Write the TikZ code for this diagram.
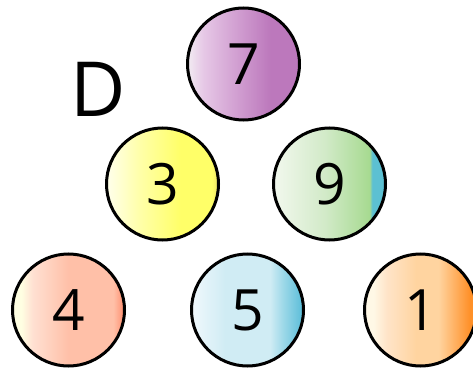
\documentclass[tikz,border=0pt]{standalone}
\usepackage{fontspec}
\setmainfont{Open Sans}

\definecolor{pA}{HTML}{F2ECF2}
\definecolor{pB}{HTML}{E6C8E6}
\definecolor{pC}{HTML}{D4A4D4}
\definecolor{pD}{HTML}{BC78BC}
\definecolor{yA}{HTML}{FFFFEC}
\definecolor{yB}{HTML}{FFFFA8}
\definecolor{yC}{HTML}{FFFF68}
\definecolor{yD}{HTML}{ECE268}
\definecolor{gA}{HTML}{F2F8EE}
\definecolor{gB}{HTML}{D2EAC8}
\definecolor{gC}{HTML}{A6DA90}
\definecolor{gD}{HTML}{5CC0D2}
\definecolor{rA}{HTML}{FFFFE2}
\definecolor{rB}{HTML}{FFE0D2}
\definecolor{rC}{HTML}{FFC0A8}
\definecolor{rD}{HTML}{FF8C6C}
\definecolor{bA}{HTML}{F0F8FC}
\definecolor{bB}{HTML}{D0ECF4}
\definecolor{bC}{HTML}{9CD8E8}
\definecolor{bD}{HTML}{58BCD8}
\definecolor{oA}{HTML}{FFF8E6}
\definecolor{oB}{HTML}{FFE4C8}
\definecolor{oC}{HTML}{FFD4A0}
\definecolor{oD}{HTML}{FF9028}

\pgfdeclarehorizontalshading{purpleball}{100bp}{color(0bp)=(pA); color(25bp)=(pA); color(32bp)=(pB); color(45bp)=(pC); color(62bp)=(pD); color(75bp)=(pD); color(100bp)=(pD)}
\pgfdeclarehorizontalshading{yellowball}{100bp}{color(0bp)=(yA); color(25bp)=(yA); color(40bp)=(yB); color(58bp)=(yC); color(72bp)=(yC); color(75bp)=(yD); color(100bp)=(yD)}
\pgfdeclarehorizontalshading{greenball}{100bp}{color(0bp)=(gA); color(25bp)=(gA); color(48bp)=(gB); color(68bp)=(gC); color(69bp)=(gD); color(75bp)=(gD); color(100bp)=(gD)}
\pgfdeclarehorizontalshading{redball}{100bp}{color(0bp)=(rA); color(25bp)=(rA); color(29bp)=(rA); color(34bp)=(rB); color(50bp)=(rC); color(70bp)=(rC); color(75bp)=(rD); color(100bp)=(rD)}
\pgfdeclarehorizontalshading{blueball}{100bp}{color(0bp)=(bA); color(25bp)=(bA); color(40bp)=(bB); color(60bp)=(bB); color(66bp)=(bC); color(75bp)=(bD); color(100bp)=(bD)}
\pgfdeclarehorizontalshading{orangeball}{100bp}{color(0bp)=(oA); color(25bp)=(oA); color(29bp)=(oA); color(35bp)=(oB); color(48bp)=(oC); color(58bp)=(oC); color(72bp)=(oD); color(100bp)=(oD)}

\tikzset{
  ball/.style={circle, draw=black, line width=3pt, minimum size=112pt, inner sep=0pt,
    font=\fontsize{57}{57}\selectfont}
}

\begin{document}
\begin{tikzpicture}[x=1pt,y=-1pt]
\useasboundingbox (0,0) rectangle (473,374);

\node[font=\fontsize{76}{76}\selectfont] (letter) at (98,89) {D};

\node[ball, shading=purpleball] (seven) at (243.5,64) {7};
\node[ball, shading=yellowball] (three) at (162.5,184) {3};
\node[ball, shading=greenball] (nine) at (329.5,184) {9};
\node[ball, shading=redball] (four) at (68.5,310) {4};
\node[ball, shading=blueball] (five) at (247.5,310) {5};
\node[ball, shading=orangeball] (one) at (420.5,310) {1};
\end{tikzpicture}
\end{document}
